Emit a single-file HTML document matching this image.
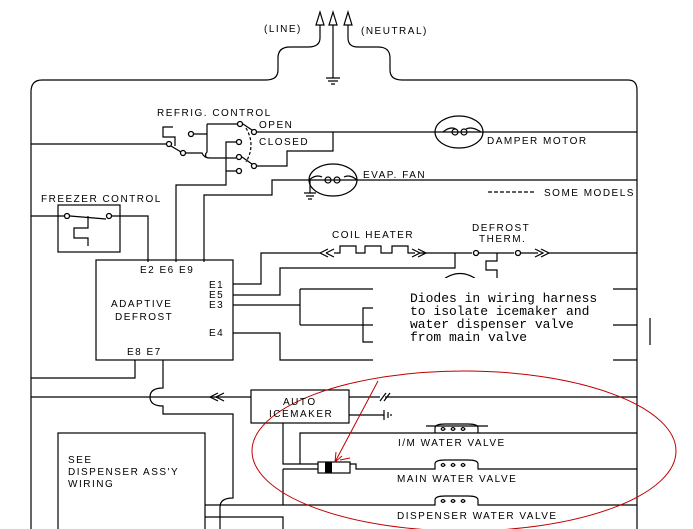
<!DOCTYPE html>
<html><head><meta charset="utf-8"><style>
html,body{margin:0;padding:0;background:#fff;}
svg{display:block;}
text{font-family:"Liberation Sans",sans-serif;font-size:10px;letter-spacing:1.5px;fill:#000;}
.m{font-family:"Liberation Mono",monospace;font-size:13px;letter-spacing:0;}
</style></head><body>
<svg width="693" height="529" viewBox="0 0 693 529" xmlns="http://www.w3.org/2000/svg">
<g fill="none" stroke="#000" stroke-width="1.2">
<path d="M320,25 V38 Q320,47 308,47 H290 Q278,47 278,58 V70 Q278,80 266,80 H42 Q31,80 31,92 V529"/>
<path d="M348,25 V38 Q348,47 358,47 H378 Q390,47 390,58 V70 Q390,80 402,80 H628 Q637,80 637,90 V529"/>
<path d="M333,25 V78"/>
<path d="M326,78 H340 M328,81 H338 M331,84 H335"/>
<path d="M316,25 L320,12 L324,25 Z M329,25 L333,12 L337,25 Z M344,25 L348,12 L352,25 Z"/>
<path d="M31,144 H166"/>
<path d="M173,127 H163 V137 H175 V146"/>
<path d="M171,146 L181,152"/>
<path d="M194,134 H207 M207,124 H237 M207,124 V152 Q204,155 207,158 M186,153 H202 Q204,158 210,158 H236"/>
<path d="M243,124 L252,130"/>
<path d="M242,157 L252,164"/>
<path d="M246,128 Q256,145 246,162" stroke-dasharray="3,2"/>
<path d="M257,132 H637 M333,132 V151 H287 V166 H257"/>
<path d="M236,142 H226 V185 H176 V262 M226,171 H236"/>
<path d="M637,180 H272 V195 H204 V262"/>
<ellipse cx="333" cy="180" rx="24" ry="16"/>
<path d="M309,180 Q316,174 322,177 M344,177 Q350,174 357,180"/>
<circle cx="328" cy="180" r="3"/><circle cx="337" cy="180" r="3"/>
<path d="M310,180 V193 M304,193 H316 M306,196 H314 M308,199 H312"/>
<ellipse cx="459" cy="132" rx="24" ry="16"/>
<path d="M443,132 Q450,126 456,129 M466,129 Q472,126 481,132"/>
<circle cx="455" cy="132" r="3"/><circle cx="464" cy="132" r="3"/>
<path d="M488,192 H535" stroke-dasharray="4,2"/>
<rect x="58" y="205" width="62" height="47"/>
<path d="M31,216 H64 M70,216 L106,219 M112,216 H148 V262"/>
<path d="M88,216 V228 H74 V238 H88 V246"/>
<rect x="96" y="260" width="137" height="100"/>
<path d="M233,284 H261 V253 H320"/>
<path d="M320,253 L328,249 M320,253 L328,257 M326,253 L334,249 M326,253 L334,257"/>
<path d="M334,253 H340 V246 H356 V253 H365 V246 H381 V253 H392 V246 H408 V253 H415"/>
<path d="M412,249 L420,253 L412,257 M418,249 L426,253 L418,257"/>
<path d="M420,253 H472 M479,253 H514 M521,253 H538"/>
<path d="M535,249 L543,253 L535,257 M541,249 L549,253 L541,257 M549,253 H637"/>
<path d="M497,253 V261 H486 V270 H497 V285"/>
<path d="M233,295 H280 V268 H455 V253"/>
<path d="M440,282 Q460,265 480,282"/>
<path d="M233,305 H300 M300,289 V325 M300,289 H373 M300,325 H373 M373,308 H363 V342 H373"/>
<path d="M233,333 H280 V360 H373"/>
<path d="M613,289 H637 M613,325 H637 M613,360 H637 M650,318 V345"/>
<path d="M135,360 V378 H31"/>
<path d="M163,360 V388 Q150,388 150,397 Q150,406 163,406 V414 H233 V498 Q220,498 220,507 V529"/>
<path d="M31,397 H251"/>
<path d="M218,393 L210,397 L218,401 M224,393 L216,397 L224,401"/>
<rect x="251" y="390" width="98" height="33"/>
<path d="M349,397 H380 M385,397 H637 M380,401 L386,393 M384,401 L390,393"/>
<path d="M349,415 H384 M384,410 V420 M388,412 V418 M391,414 V416"/>
<path d="M283,423 V464 H318 M300,464 V433 H637"/>
<path d="M426,426 H488"/>
<path d="M435,433 V428 Q435,424 445,424 H468 Q478,424 478,428 V433"/>
<rect x="318" y="462" width="32" height="11"/>
<path d="M350,464 H356 V469 H435 V464 Q435,460 445,460 H468 Q478,460 478,464 V469 H637"/>
<path d="M283,469 H318 M283,469 V505"/>
<path d="M205,505 H435 V500 Q435,496 445,496 H468 Q478,496 478,500 V505 H637"/>
<path d="M205,517 H283 V529"/>
<rect x="58" y="433" width="147" height="100"/>
<path d="M441,429 Q443,426 445,429 Q443,432 441,429 M451,429 Q453,426 455,429 Q453,432 451,429 M461,429 Q463,426 465,429 Q463,432 461,429"/>
<path d="M441,465 Q443,462 445,465 Q443,468 441,465 M451,465 Q453,462 455,465 Q453,468 451,465 M461,465 Q463,462 465,465 Q463,468 461,465"/>
<path d="M441,501 Q443,498 445,501 Q443,504 441,501 M451,501 Q453,498 455,501 Q453,504 451,501 M461,501 Q463,498 465,501 Q463,504 461,501"/>
</g>
<rect x="325" y="462" width="7" height="11" fill="#000"/>
<g fill="#fff" stroke="#000" stroke-width="1.3">
<circle cx="169" cy="144" r="2.5"/><circle cx="183" cy="153" r="2.5"/><circle cx="191" cy="134" r="2.5"/>
<circle cx="240" cy="124" r="2.5"/><circle cx="254" cy="132" r="2.5"/><circle cx="239" cy="142" r="2.5"/>
<circle cx="239" cy="157" r="2.5"/><circle cx="254" cy="166" r="2.5"/><circle cx="239" cy="171" r="2.5"/>
<circle cx="67" cy="216" r="2.5"/><circle cx="109" cy="216" r="2.5"/>
<circle cx="476" cy="253" r="2.5"/><circle cx="518" cy="253" r="2.5"/>
</g>
<rect x="374" y="278" width="238" height="98" fill="#fff"/>
<g fill="none" stroke="#c00000" stroke-width="1">
<ellipse cx="464" cy="451" rx="212" ry="80"/>
<path d="M378,381 L335,462 M335,462 L336,452 M335,462 L342,456"/>
<path d="M340,460 L350,458"/>
</g>
<text x="264" y="32">(LINE)</text>
<text x="361" y="34">(NEUTRAL)</text>
<text x="157" y="116">REFRIG. CONTROL</text>
<text x="259" y="128">OPEN</text>
<text x="259" y="145">CLOSED</text>
<text x="487" y="144">DAMPER MOTOR</text>
<text x="363" y="178">EVAP. FAN</text>
<text x="544" y="196">SOME MODELS</text>
<text x="41" y="202">FREEZER CONTROL</text>
<text x="332" y="238">COIL HEATER</text>
<text x="472" y="231">DEFROST</text>
<text x="479" y="242">THERM.</text>
<text x="140" y="273">E2 E6 E9</text>
<text x="209" y="288">E1</text>
<text x="209" y="298">E5</text>
<text x="209" y="308">E3</text>
<text x="209" y="336">E4</text>
<text x="111" y="307">ADAPTIVE</text>
<text x="115" y="320">DEFROST</text>
<text x="127" y="355">E8 E7</text>
<text x="283" y="405">AUTO</text>
<text x="269" y="417">ICEMAKER</text>
<text x="398" y="446">I/M WATER VALVE</text>
<text x="397" y="482">MAIN WATER VALVE</text>
<text x="397" y="519">DISPENSER WATER VALVE</text>
<text x="68" y="463">SEE</text>
<text x="68" y="475">DISPENSER ASS'Y</text>
<text x="68" y="487">WIRING</text>
<text class="m" x="410" y="302">Diodes in wiring harness</text>
<text class="m" x="410" y="315">to isolate icemaker and</text>
<text class="m" x="410" y="328">water dispenser valve</text>
<text class="m" x="410" y="341">from main valve</text>
</svg>
</body></html>
